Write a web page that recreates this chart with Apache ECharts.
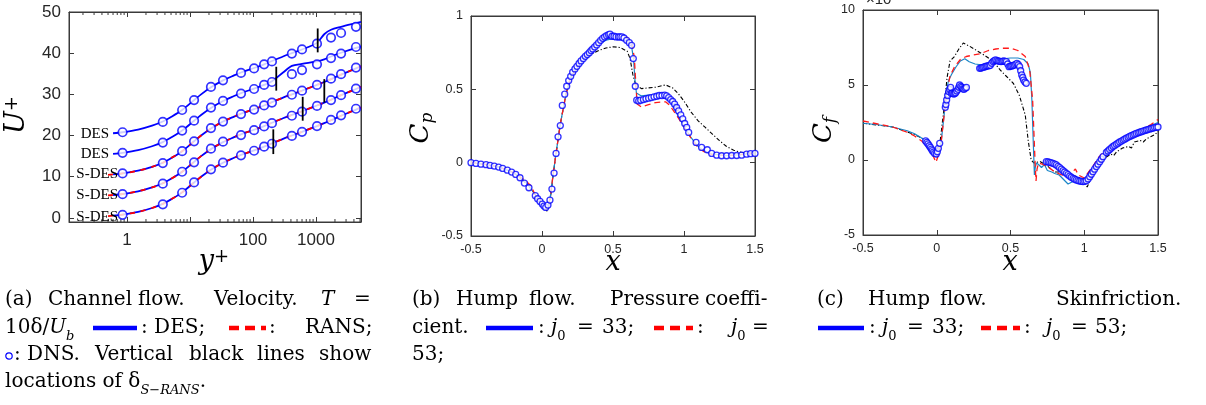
<!DOCTYPE html>
<html><head><meta charset="utf-8">
<script src="https://cdn.jsdelivr.net/npm/echarts@6/dist/echarts.min.js"></script>
<style>html,body{margin:0;padding:0;background:#fff}#c{width:1206px;height:405px}</style>
</head><body><div id="c"></div><script>
// ================= (a) channel flow =================
const yPlusDNS = [0.85,3.7,7.5,11.6,21.5,33.4,64.5,104,150,200,414,600,1037,1730,2500,4310];
const dnsU0  = [0.75,3.3,6.1,8.6,11.8,13.4,15.2,16.3,17.3,18.0,19.9,20.9,22.3,23.8,24.9,26.5];
const dnsU5  = [5.75,8.3,11.2,13.5,16.8,18.5,20.1,21.3,22.2,23.0,24.8,25.8,27.2,28.6,29.8,31.4];
const dnsU10 = [10.8,13.3,16.2,18.6,21.8,23.4,25.2,26.3,27.3,28.0,29.9,30.9,32.3,33.8,34.9,36.5];
const dnsU15 = [15.8,18.3,21.2,23.6,26.8,28.4,30.2,31.3,32.3,33.0,34.9,35.9,37.3,38.8,39.9,41.5];
const dnsU20 = [20.8,23.3,26.2,28.6,31.8,33.4,35.2,36.3,37.3,38.0,39.9,40.9,42.3,43.8,44.9,46.4];

const yPlusModel = [0.6,0.85,1.5,2.5,3.7,5,7.5,11.6,15,21.5,33.4,50,64.5,104,150,200,300,414,600,1037,1350,1730,2500,4310,5180];
const desU0  = [0.55,0.8,1.45,2.4,3.4,4.5,6.2,8.6,10.0,11.7,13.4,14.6,15.3,16.4,17.3,18.1,19.2,20.0,20.9,22.3,23.0,23.7,24.8,26.3,26.8];
const desU5  = [5.55,5.8,6.45,7.4,8.4,9.5,11.2,13.6,15.0,16.7,18.4,19.6,20.3,21.4,22.3,23.1,24.2,25.0,25.9,27.3,28.0,28.7,29.8,31.3,31.8];
const desU10 = [10.55,10.8,11.45,12.4,13.4,14.5,16.2,18.6,20.0,21.7,23.4,24.6,25.3,26.4,27.3,28.1,29.2,30.0,30.9,32.3,33.0,33.7,34.8,36.3,36.8];
const desU15 = [15.55,15.8,16.45,17.4,18.4,19.5,21.2,23.6,25.0,26.7,28.4,29.6,30.3,31.4,32.3,33.2,35.3,36.9,37.4,38.0,38.5,39.2,40.1,41.3,41.6];
const desU20 = [20.55,20.8,21.45,22.4,23.4,24.5,26.2,28.6,30.0,31.7,33.4,34.6,35.3,36.4,37.3,38.1,39.2,40.0,40.9,42.5,44.6,45.7,46.4,47.3,47.6];
const yPlusRans = [0.5,0.85,1.5,2.5,3.7,5,7.5,11.6,15,21.5,33.4,50,64.5,104,150,200,300,414,600,1037,1350,1730,2500,4310,5180];
const ransU0  = [0.45,0.8,1.45,2.4,3.4,4.5,6.2,8.6,10.0,11.7,13.4,14.6,15.3,16.4,17.3,18.1,19.2,20.0,20.9,22.3,23.0,23.7,24.8,26.3,26.8];
const ransU5  = [5.45,5.8,6.45,7.4,8.4,9.5,11.2,13.6,15.0,16.7,18.4,19.6,20.3,21.4,22.3,23.1,24.2,25.0,25.9,27.3,28.0,28.7,29.8,31.3,31.8];
const ransU10 = [10.45,10.8,11.45,12.4,13.4,14.5,16.2,18.6,20.0,21.7,23.4,24.6,25.3,26.4,27.3,28.1,29.2,30.0,30.9,32.3,33.0,33.7,34.8,36.3,36.8];

const deltaX  = [210, 615, 1355, 234, 1064];
const deltaLo = [15.5, 23.6, 28.0, 30.9, 40.2];
const deltaHi = [21.5, 29.4, 33.7, 36.7, 46.0];
const curveNames = ['S-DES','S-DES','S-DES','DES','DES'];
const minorTicksA = [0.2,0.3,0.4,0.5,0.6,0.7,0.8,0.9,2,3,4,5,6,7,8,9,20,30,40,50,60,70,80,90,200,300,400,500,600,700,800,900,2000,3000,4000,5000];

// ================= (b) pressure coefficient =================
const bDNS = [[-0.5,0],[-0.465,-0.005],[-0.43,-0.01],[-0.394,-0.014],[-0.366,-0.019],[-0.336,-0.023],[-0.305,-0.03],[-0.277,-0.039],[-0.244,-0.051],[-0.214,-0.064],[-0.185,-0.08],[-0.155,-0.103],[-0.124,-0.139],[-0.092,-0.171],[-0.047,-0.225],[-0.031,-0.246],[-0.014,-0.264],[0.002,-0.282],[0.014,-0.296],[0.026,-0.305],[0.042,-0.289],[0.056,-0.255],[0.07,-0.18],[0.085,-0.071],[0.099,0.063],[0.113,0.176],[0.129,0.253],[0.143,0.39],[0.16,0.467],[0.174,0.521],[0.188,0.56],[0.202,0.589],[0.216,0.617],[0.232,0.639],[0.246,0.657],[0.261,0.676],[0.275,0.694],[0.291,0.71],[0.305,0.725],[0.319,0.737],[0.333,0.75],[0.345,0.764],[0.357,0.775],[0.371,0.789],[0.385,0.803],[0.399,0.818],[0.413,0.834],[0.427,0.848],[0.441,0.857],[0.455,0.866],[0.469,0.873],[0.479,0.877],[0.493,0.862],[0.507,0.862],[0.521,0.857],[0.538,0.857],[0.549,0.857],[0.563,0.857],[0.577,0.85],[0.596,0.834],[0.615,0.818],[0.631,0.8],[0.643,0.71],[0.657,0.521],[0.667,0.426],[0.681,0.421],[0.695,0.426],[0.714,0.43],[0.732,0.435],[0.751,0.44],[0.77,0.444],[0.789,0.449],[0.808,0.453],[0.826,0.458],[0.845,0.458],[0.864,0.46],[0.878,0.455],[0.892,0.444],[0.906,0.43],[0.92,0.417],[0.934,0.399],[0.948,0.376],[0.962,0.353],[0.977,0.326],[0.991,0.299],[1.005,0.267],[1.019,0.24],[1.033,0.206],[1.085,0.138],[1.124,0.104],[1.164,0.088],[1.195,0.063],[1.23,0.051],[1.265,0.047],[1.3,0.047],[1.336,0.049],[1.371,0.049],[1.406,0.051],[1.441,0.058],[1.469,0.061],[1.5,0.063]];
const bJ33 = [[-0.5,0],[-0.4,-0.012],[-0.3,-0.03],[-0.2,-0.068],[-0.15,-0.1],[-0.1,-0.15],[-0.05,-0.215],[0,-0.28],[0.03,-0.315],[0.045,-0.3],[0.06,-0.22],[0.08,-0.07],[0.1,0.07],[0.13,0.27],[0.17,0.47],[0.2,0.58],[0.25,0.655],[0.3,0.715],[0.35,0.765],[0.4,0.805],[0.45,0.835],[0.5,0.845],[0.55,0.845],[0.6,0.83],[0.63,0.8],[0.645,0.7],[0.655,0.56],[0.665,0.475],[0.7,0.455],[0.75,0.46],[0.8,0.465],[0.86,0.462],[0.9,0.425],[0.95,0.335],[1.0,0.25],[1.05,0.17],[1.1,0.11],[1.15,0.075],[1.2,0.058],[1.3,0.048],[1.4,0.055],[1.5,0.065]];
const bJ53 = [[-0.5,0],[-0.4,-0.012],[-0.3,-0.03],[-0.2,-0.068],[-0.12,-0.12],[-0.08,-0.155],[-0.05,-0.215],[0,-0.28],[0.03,-0.315],[0.045,-0.3],[0.06,-0.22],[0.08,-0.07],[0.1,0.07],[0.13,0.27],[0.17,0.47],[0.2,0.58],[0.25,0.655],[0.3,0.715],[0.35,0.765],[0.4,0.81],[0.45,0.845],[0.5,0.86],[0.55,0.865],[0.6,0.855],[0.63,0.82],[0.65,0.72],[0.66,0.55],[0.67,0.4],[0.7,0.38],[0.75,0.395],[0.8,0.41],[0.87,0.415],[0.9,0.39],[0.95,0.32],[1.0,0.245],[1.05,0.165],[1.1,0.1],[1.15,0.07],[1.2,0.055],[1.3,0.048],[1.4,0.055],[1.5,0.065]];
const bRef = [[-0.5,0],[-0.4,-0.012],[-0.3,-0.03],[-0.2,-0.068],[-0.1,-0.15],[-0.05,-0.215],[0,-0.285],[0.035,-0.33],[0.05,-0.29],[0.065,-0.2],[0.08,-0.07],[0.1,0.07],[0.13,0.27],[0.17,0.47],[0.2,0.575],[0.25,0.65],[0.3,0.705],[0.35,0.74],[0.4,0.765],[0.45,0.782],[0.5,0.79],[0.55,0.785],[0.6,0.76],[0.62,0.71],[0.64,0.6],[0.66,0.53],[0.7,0.505],[0.8,0.515],[0.87,0.53],[0.92,0.51],[0.96,0.47],[1.0,0.42],[1.05,0.345],[1.1,0.285],[1.15,0.24],[1.2,0.195],[1.25,0.15],[1.3,0.11],[1.35,0.085],[1.42,0.065],[1.5,0.065]];

// ================= (c) skin friction (x 1e-3) =================
const cDNS = [[-0.075,1.27],[-0.067,1.17],[-0.059,1.07],[-0.051,0.95],[-0.043,0.84],[-0.036,0.73],[-0.03,0.62],[-0.022,0.53],[-0.014,0.44],[-0.003,0.4],[0.004,0.55],[0.011,0.78],[0.02,1.11],[0.058,3.51],[0.062,3.7],[0.067,4.0],[0.074,4.3],[0.081,4.56],[0.088,4.7],[0.094,4.84],[0.099,4.44],[0.107,4.45],[0.115,4.4],[0.122,4.43],[0.128,4.49],[0.136,4.6],[0.144,4.71],[0.15,4.85],[0.155,5.0],[0.163,4.9],[0.171,4.84],[0.178,4.75],[0.185,4.71],[0.193,4.78],[0.201,4.84],[0.291,6.11],[0.3,6.13],[0.309,6.16],[0.318,6.19],[0.327,6.22],[0.336,6.25],[0.345,6.27],[0.354,6.29],[0.363,6.31],[0.372,6.45],[0.381,6.56],[0.39,6.62],[0.399,6.67],[0.408,6.63],[0.418,6.6],[0.427,6.58],[0.436,6.56],[0.445,6.58],[0.454,6.6],[0.463,6.58],[0.472,6.56],[0.481,6.4],[0.49,6.22],[0.499,6.25],[0.508,6.27],[0.517,6.3],[0.526,6.33],[0.535,6.38],[0.544,6.44],[0.553,6.35],[0.562,6.22],[0.569,5.95],[0.576,5.67],[0.583,5.5],[0.589,5.33],[0.598,5.2],[0.607,5.11],[0.743,-0.11],[0.755,-0.13],[0.766,-0.16],[0.777,-0.19],[0.788,-0.22],[0.8,-0.27],[0.811,-0.33],[0.822,-0.42],[0.833,-0.51],[0.845,-0.61],[0.856,-0.71],[0.867,-0.8],[0.879,-0.89],[0.89,-0.98],[0.901,-1.07],[0.912,-1.15],[0.924,-1.22],[0.935,-1.28],[0.946,-1.33],[0.957,-1.37],[0.969,-1.4],[0.98,-1.42],[0.992,-1.44],[1.003,-1.42],[1.014,-1.38],[1.026,-1.26],[1.037,-1.11],[1.048,-0.95],[1.059,-0.78],[1.07,-0.61],[1.082,-0.44],[1.093,-0.28],[1.105,-0.11],[1.116,0.05],[1.127,0.22],[1.15,0.5],[1.161,0.6],[1.172,0.7],[1.184,0.8],[1.195,0.9],[1.206,0.97],[1.218,1.05],[1.229,1.12],[1.24,1.2],[1.252,1.26],[1.263,1.33],[1.274,1.39],[1.285,1.45],[1.297,1.51],[1.308,1.57],[1.319,1.62],[1.331,1.67],[1.342,1.72],[1.353,1.77],[1.365,1.81],[1.376,1.85],[1.387,1.89],[1.398,1.93],[1.41,1.96],[1.421,2.0],[1.432,2.03],[1.444,2.07],[1.455,2.1],[1.466,2.13],[1.477,2.16],[1.489,2.18],[1.5,2.2]];
const cJ33 = [[-0.5,2.45],[-0.4,2.35],[-0.3,2.2],[-0.2,1.95],[-0.15,1.75],[-0.1,1.45],[-0.07,1.2],[-0.04,0.85],[-0.01,0.4],[0.0,0.2],[0.015,0.5],[0.03,1.2],[0.05,3.0],[0.065,4.6],[0.08,5.3],[0.1,5.7],[0.13,6.2],[0.16,6.6],[0.19,6.75],[0.22,6.55],[0.26,6.4],[0.3,6.35],[0.35,6.4],[0.4,6.6],[0.45,6.75],[0.5,6.8],[0.55,6.8],[0.59,6.7],[0.62,6.4],[0.635,5.8],[0.645,4.0],[0.655,1.0],[0.662,-1.0],[0.668,-0.5],[0.675,-0.2],[0.69,-0.3],[0.71,-0.5],[0.73,-0.3],[0.75,-0.7],[0.78,-0.8],[0.8,-0.9],[0.83,-1.0],[0.86,-1.3],[0.89,-1.6],[0.91,-1.5],[0.93,-1.4],[0.95,-1.5],[0.98,-1.55],[1.0,-1.4],[1.03,-1.0],[1.06,-0.6],[1.1,-0.2],[1.15,0.35],[1.2,0.85],[1.25,1.25],[1.3,1.6],[1.35,1.85],[1.4,2.05],[1.45,2.3],[1.5,2.5]];
const cJ53 = [[-0.5,2.6],[-0.4,2.4],[-0.3,2.2],[-0.2,1.85],[-0.15,1.6],[-0.1,1.25],[-0.06,0.8],[-0.03,0.4],[-0.005,-0.15],[0.01,0.3],[0.03,1.2],[0.05,3.0],[0.07,4.6],[0.09,5.6],[0.12,6.2],[0.16,6.7],[0.2,6.9],[0.25,7.0],[0.3,7.1],[0.35,7.3],[0.4,7.4],[0.45,7.45],[0.5,7.45],[0.55,7.3],[0.6,6.9],[0.63,6.0],[0.65,4.0],[0.66,1.5],[0.668,-0.5],[0.673,-1.4],[0.68,-0.6],[0.69,-0.2],[0.72,-0.3],[0.76,-0.5],[0.8,-0.8],[0.85,-1.0],[0.9,-1.1],[0.92,-0.8],[0.94,-0.6],[0.96,-1.0],[1.0,-1.2],[1.03,-0.8],[1.06,-0.4],[1.1,0.2],[1.13,0.5],[1.16,0.75],[1.2,1.0],[1.25,1.3],[1.3,1.6],[1.35,1.85],[1.4,2.1],[1.45,2.35],[1.5,2.7]];
const cRef = [[-0.5,2.45],[-0.3,2.2],[-0.15,1.7],[-0.05,1.2],[-0.01,0.6],[0.02,1.0],[0.05,3.5],[0.07,5.5],[0.09,6.6],[0.12,6.9],[0.15,7.4],[0.18,7.8],[0.22,7.6],[0.27,7.3],[0.32,7.0],[0.38,6.6],[0.43,6.0],[0.47,5.6],[0.52,5.1],[0.56,4.3],[0.6,3.0],[0.62,1.3],[0.64,0.0],[0.66,-0.2],[0.7,-0.1],[0.75,-0.4],[0.8,-0.8],[0.85,-0.8],[0.9,-1.0],[0.95,-1.1],[0.99,-1.3],[1.02,-1.8],[1.06,-0.9],[1.1,-0.3],[1.15,0.2],[1.18,0.4],[1.2,0.3],[1.22,0.55],[1.26,0.8],[1.3,0.9],[1.32,0.8],[1.34,1.2],[1.38,1.3],[1.4,1.2],[1.42,1.4],[1.45,1.55],[1.48,1.7],[1.5,1.9]];

// ================= build =================
const AX = '#3a3a3a', TXT = '#262626';
const SANS = 'Liberation Sans, Arial, sans-serif';
const SERIF = 'DejaVu Serif, Liberation Serif, serif';
const zip = (xs, ys) => xs.map((x, i) => [x, ys[i]]);

function xAx(gi, type, min, max, pos, fs, extra) {
  return Object.assign({
    type, gridIndex: gi, min, max, position: pos,
    axisLine: {show: true, onZero: false, lineStyle: {color: AX, width: 1}},
    axisTick: {show: true, inside: true, length: 5, lineStyle: {color: AX}},
    axisLabel: {show: pos === 'bottom', color: TXT, fontSize: fs, fontFamily: SANS, margin: 7},
    splitLine: {show: false}
  }, extra || {});
}
function yAx(gi, type, min, max, pos, fs, extra) {
  return Object.assign({
    type, gridIndex: gi, min, max, position: pos,
    axisLine: {show: true, onZero: false, lineStyle: {color: AX, width: 1}},
    axisTick: {show: true, inside: true, length: 5, lineStyle: {color: AX}},
    axisLabel: {show: pos === 'left', color: TXT, fontSize: fs, fontFamily: SANS, margin: 8},
    splitLine: {show: false}
  }, extra || {});
}

const logExtra = {logBase: 10, axisLabel: {show: true, color: TXT, fontSize: 17, fontFamily: SANS, margin: 10,
  showMinLabel: false, showMaxLabel: false,
  formatter: v => { const r = Math.round(v); return r === 10 ? '' : String(r); }}};
const logExtraTop = {logBase: 10, axisLabel: {show: false}};

const xAxis = [
  xAx(0, 'log', 0.12, 5180, 'bottom', 17, logExtra),
  xAx(0, 'log', 0.12, 5180, 'top', 17, logExtraTop),
  xAx(1, 'value', -0.5, 1.5, 'bottom', 12.5, {interval: 0.5}),
  xAx(1, 'value', -0.5, 1.5, 'top', 12.5, {interval: 0.5}),
  xAx(2, 'value', -0.5, 1.5, 'bottom', 12.5, {interval: 0.5}),
  xAx(2, 'value', -0.5, 1.5, 'top', 12.5, {interval: 0.5})
];
const yAxis = [
  yAx(0, 'value', -1, 50, 'left', 17, {axisLabel: {show: true, color: TXT, fontSize: 17, fontFamily: SANS, margin: 8, showMinLabel: false}}),
  yAx(0, 'value', -1, 50, 'right', 17),
  yAx(1, 'value', -0.5, 1, 'left', 12.5, {interval: 0.5}),
  yAx(1, 'value', -0.5, 1, 'right', 12.5, {interval: 0.5}),
  yAx(2, 'value', -5, 10, 'left', 12.5, {interval: 5}),
  yAx(2, 'value', -5, 10, 'right', 12.5, {interval: 5})
];

const series = [];
const desSets = [desU0, desU5, desU10, desU15, desU20];
const ransSets = [ransU0, ransU5, ransU10];
const dnsSets = [dnsU0, dnsU5, dnsU10, dnsU15, dnsU20];
desSets.forEach(u => series.push({type: 'line', xAxisIndex: 0, yAxisIndex: 0, data: zip(yPlusModel, u), smooth: 0.3,
  showSymbol: false, lineStyle: {color: '#0000ff', width: 1.8}, z: 2}));
ransSets.forEach(u => series.push({type: 'line', xAxisIndex: 0, yAxisIndex: 0, data: zip(yPlusRans, u), smooth: 0.3,
  showSymbol: false, lineStyle: {color: '#ff0000', width: 1.8, type: [5, 6]}, z: 3}));
dnsSets.forEach(u => series.push({type: 'scatter', xAxisIndex: 0, yAxisIndex: 0, data: zip(yPlusDNS, u),
  symbol: 'circle', symbolSize: 8.5, itemStyle: {color: '#ffffff', borderColor: '#0000ff', borderWidth: 1.7}, z: 4}));
deltaX.forEach((x, i) => series.push({type: 'line', xAxisIndex: 0, yAxisIndex: 0,
  data: [[x, deltaLo[i]], [x, deltaHi[i]]], showSymbol: false, lineStyle: {color: '#000', width: 1.8}, z: 5}));
series.push({type: 'custom', xAxisIndex: 0, yAxisIndex: 0, silent: true, z: 1,
  data: minorTicksA.map(v => [v, 0]), encode: {x: 0, y: 1},
  renderItem: (params, api) => {
    const b = api.coord([api.value(0), -1]);
    const t = api.coord([api.value(0), 50]);
    return {type: 'group', children: [
      {type: 'line', shape: {x1: b[0], y1: b[1], x2: b[0], y2: b[1] - 3}, style: {stroke: AX, lineWidth: 1}},
      {type: 'line', shape: {x1: t[0], y1: t[1], x2: t[0], y2: t[1] + 3}, style: {stroke: AX, lineWidth: 1}}
    ]};
  }});

// (b) and (c)
const refStyle = {color: '#000', width: 1.1, type: [4, 2, 1.2, 2]};
const j33Style = {color: '#1a86c8', width: 1.2};
const j53Style = {color: '#ff1a1a', width: 1.3, type: [6, 4]};
const dnsItem = {color: '#ffffff', borderColor: '#0000ff', borderWidth: 1.3};
[[2, 2, bRef, bJ53, bJ33, bDNS], [4, 4, cRef, cJ53, cJ33, cDNS]].forEach(([xi, yi, r, j53, j33, d]) => {
  series.push({type: 'line', xAxisIndex: xi, yAxisIndex: yi, data: r, showSymbol: false, lineStyle: refStyle, z: 2});
  series.push({type: 'line', xAxisIndex: xi, yAxisIndex: yi, data: j33, showSymbol: false, lineStyle: j33Style, z: 3});
  series.push({type: 'line', xAxisIndex: xi, yAxisIndex: yi, data: j53, showSymbol: false, lineStyle: j53Style, z: 3});
  series.push({type: 'scatter', xAxisIndex: xi, yAxisIndex: yi, data: d, symbol: 'circle', symbolSize: 6,
    itemStyle: dnsItem, z: 4});
});

// ------------- text / annotations -------------
const g = [];
function tx(x, y, text, o) {
  o = o || {};
  g.push({type: 'text', x, y, z: 100, rotation: o.rot || 0, style: {text, fill: o.fill || '#000',
    fontSize: o.fs || 20, fontFamily: o.ff || SERIF, fontStyle: o.it ? 'italic' : 'normal',
    align: o.align || 'left', verticalAlign: o.va || 'middle', rich: o.rich}});
}
function seg(x1, x2, y, color, dash) {
  g.push({type: 'line', z: 100, shape: {x1, y1: y, x2, y2: y},
    style: {stroke: color, lineWidth: 4.5, lineDash: dash || null}});
}
// curve labels in (a)
const labY = [217, 195, 174, 154, 134], labR = [118, 118, 118, 109, 109];
curveNames.forEach((n, i) => tx(labR[i], labY[i], n, {fs: 15, ff: 'Liberation Serif, serif', align: 'right'}));

// axis titles
const supRich = (fs) => ({u: {fontSize: fs, fontStyle: 'italic', fontFamily: SERIF, fill: '#000'},
  p: {fontSize: Math.round(fs * 0.65), fontFamily: SERIF, fill: '#000', verticalAlign: 'top', lineHeight: fs},
  s: {fontSize: Math.round(fs * 0.65), fontStyle: 'italic', fontFamily: SERIF, fill: '#000', verticalAlign: 'bottom', lineHeight: fs + 4}});
tx(17, 115, '{u|U}{p|+}', {rot: Math.PI / 2, align: 'center', rich: supRich(27)});
tx(214, 262, '{u|y}{p|+}', {align: 'center', rich: supRich(27)});
tx(421, 128, '{u|C}{s|p}', {rot: Math.PI / 2, align: 'center', rich: supRich(26)});
tx(613, 263, 'x', {align: 'center', it: true, fs: 27});
tx(824, 130, '{u|C}{s|f}', {rot: Math.PI / 2, align: 'center', rich: supRich(26)});
tx(1010, 263, 'x', {align: 'center', it: true, fs: 27});
tx(866, 0, '×10', {fs: 15, ff: SANS, fill: TXT, va: 'middle'});

// captions
const Y1 = 300, Y2 = 328, Y3 = 355, Y4 = 382;
const capRich = {n: {fontSize: 20, fontFamily: SERIF, fill: '#000'},
  i: {fontSize: 20, fontFamily: SERIF, fontStyle: 'italic', fill: '#000'},
  s: {fontSize: 13, fontFamily: SERIF, fill: '#000', verticalAlign: 'bottom', lineHeight: 30},
  si: {fontSize: 13, fontFamily: SERIF, fontStyle: 'italic', fill: '#000', verticalAlign: 'bottom', lineHeight: 30}};
const cap = (x, y, t) => tx(x, y, t, {rich: capRich});
// (a)
cap(5, Y1, '{n|(a)}'); cap(48, Y1, '{n|Channel}'); cap(138, Y1, '{n|flow.}'); cap(214, Y1, '{n|Velocity.}');
cap(321, Y1, '{i|T}'); cap(354, Y1, '{n|=}');
cap(5, Y2, '{n|10δ/}{i|U}{si|b}'); seg(93, 137, Y2, '#0000ff'); cap(141, Y2, '{n|: DES;}');
seg(229, 266, Y2, '#ff0000', [10, 6]); cap(269, Y2, '{n|:}'); cap(305, Y2, '{n|RANS;}');
g.push({type: 'circle', z: 100, shape: {cx: 9, cy: Y3 + 1, r: 3.2}, style: {fill: 'none', stroke: '#0000ff', lineWidth: 1.2}});
cap(14, Y3, '{n|: DNS.}'); cap(95, Y3, '{n|Vertical}'); cap(189, Y3, '{n|black}'); cap(257, Y3, '{n|lines}'); cap(319, Y3, '{n|show}');
cap(5, Y4, '{n|locations of δ}{si|S−RANS}{n|.}');
// (b)
cap(412, Y1, '{n|(b)}'); cap(456, Y1, '{n|Hump}'); cap(529, Y1, '{n|flow.}'); cap(610, Y1, '{n|Pressure}'); cap(705, Y1, '{n|coeffi-}');
cap(412, Y2, '{n|cient.}'); seg(486, 533, Y2, '#0000ff');
cap(538, Y2, '{n|:}'); cap(551, Y2, '{i|j}{s|0}'); cap(577, Y2, '{n|=}'); cap(602, Y2, '{n|33;}');
seg(654, 693, Y2, '#ff0000', [10, 6]); cap(697, Y2, '{n|:}'); cap(731, Y2, '{i|j}{s|0}'); cap(752, Y2, '{n|=}');
cap(412, Y3, '{n|53;}');
// (c)
cap(817, Y1, '{n|(c)}'); cap(868, Y1, '{n|Hump}'); cap(940, Y1, '{n|flow.}'); cap(1056, Y1, '{n|Skinfriction.}');
seg(818, 864, Y2, '#0000ff');
cap(869, Y2, '{n|:}'); cap(882, Y2, '{i|j}{s|0}'); cap(907, Y2, '{n|=}'); cap(932, Y2, '{n|33;}');
seg(981, 1020, Y2, '#ff0000', [10, 6]); cap(1024, Y2, '{n|:}');
cap(1046, Y2, '{i|j}{s|0}'); cap(1071, Y2, '{n|=}'); cap(1095, Y2, '{n|53;}');

const option = {
  animation: false,
  backgroundColor: '#ffffff',
  grid: [
    {left: 69, top: 12, width: 292, height: 210, show: true, borderColor: AX, borderWidth: 1},
    {left: 471, top: 16, width: 284, height: 220, show: true, borderColor: AX, borderWidth: 1},
    {left: 863, top: 10, width: 295, height: 225, show: true, borderColor: AX, borderWidth: 1}
  ],
  xAxis, yAxis, series, graphic: g
};
const chart = echarts.init(document.getElementById('c'));
chart.setOption(option);
</script></body></html>
